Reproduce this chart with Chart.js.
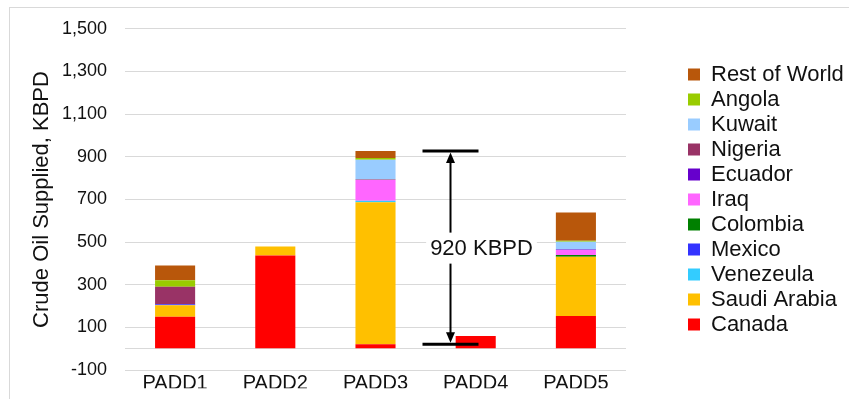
<!DOCTYPE html>
<html>
<head>
<meta charset="utf-8">
<script src="https://cdn.jsdelivr.net/npm/chart.js@4.4.1/dist/chart.umd.min.js"></script>
<style>
    body { margin: 0; background: #fff; }
    #wrap { width: 849px; height: 399px; }
</style>
</head>
<body>
<div id="wrap"><canvas id="supplyChart" width="849" height="399"></canvas></div>
<script>
// Categories and series (KBPD), bottom of stack first
const padds = ['PADD1', 'PADD2', 'PADD3', 'PADD4', 'PADD5'];
const canada    = [150, 438, 22, 60, 154];
const saudi     = [54, 42, 665, 0, 278];
const venezuela = [0, 0, 7, 0, 0];
const mexico    = [5, 0, 0, 0, 0];
const colombia  = [0, 0, 0, 0, 8];
const iraq      = [0, 0, 97, 0, 23];
const ecuador   = [0, 0, 0, 0, 3];
const nigeria   = [82, 0, 3, 0, 0];
const kuwait    = [0, 0, 92, 0, 36];
const angola    = [30, 0, 8, 0, 5];
const restWorld = [70, 0, 33, 0, 132];

const yTicks = [-100, 0, 100, 300, 500, 700, 900, 1100, 1300, 1500];
const noteText = '920 KBPD';
const noteIndex = 2; // PADD3

const textColor = '#111';
const gridColor = '#d9d9d9';
const fontFamily = '"Liberation Sans", Arial, sans-serif';

function series(label, values, color) {
    return {
        label: label,
        data: values,
        backgroundColor: color,
        borderWidth: 0,
        barPercentage: 0.4,
        categoryPercentage: 1.0
    };
}

// Outer frame line, top-left corner visible
const framePlugin = {
    id: 'frame',
    beforeDraw(chart) {
        const ctx = chart.ctx;
        ctx.save();
        ctx.fillStyle = '#fff';
        ctx.fillRect(0, 0, chart.width, chart.height);
        ctx.strokeStyle = gridColor;
        ctx.lineWidth = 1;
        ctx.strokeRect(9.5, 7.5, chart.width + 20, chart.height + 20);
        ctx.restore();
    }
};

// Dimension arrow next to PADD3
const notePlugin = {
    id: 'note',
    afterDatasetsDraw(chart) {
        const ctx = chart.ctx;
        const x = chart.scales.x;
        const y = chart.scales.y;
        let total = 0;
        chart.data.datasets.forEach(ds => { total += ds.data[noteIndex]; });
        const yTop = y.getPixelForValue(total);
        const yBot = y.getPixelForValue(canada[noteIndex]);
        const cx = x.getPixelForValue(noteIndex);
        const x0 = cx + 47, x1 = cx + 103, ax = cx + 75;

        ctx.save();
        ctx.strokeStyle = '#000';
        ctx.fillStyle = '#000';
        ctx.lineWidth = 3;
        ctx.beginPath();
        ctx.moveTo(x0, yTop); ctx.lineTo(x1, yTop);
        ctx.moveTo(x0, yBot); ctx.lineTo(x1, yBot);
        ctx.stroke();

        ctx.lineWidth = 2;
        ctx.beginPath();
        ctx.moveTo(ax, yTop + 10); ctx.lineTo(ax, yBot - 10);
        ctx.stroke();

        ctx.beginPath();
        ctx.moveTo(ax, yTop + 1.5); ctx.lineTo(ax - 4.5, yTop + 12); ctx.lineTo(ax + 4.5, yTop + 12);
        ctx.closePath();
        ctx.fill();
        ctx.beginPath();
        ctx.moveTo(ax, yBot - 1.5); ctx.lineTo(ax - 4.5, yBot - 12); ctx.lineTo(ax + 4.5, yBot - 12);
        ctx.closePath();
        ctx.fill();

        const midY = (yTop + yBot) / 2;
        ctx.font = '22px ' + fontFamily;
        const w = ctx.measureText(noteText).width;
        const tx = cx + 106;
        ctx.fillStyle = '#fff';
        ctx.fillRect(tx - w / 2 - 4, midY - 15, w + 8, 31);
        ctx.fillStyle = textColor;
        ctx.textAlign = 'center';
        ctx.textBaseline = 'middle';
        ctx.fillText(noteText, tx, midY + 1);
        ctx.restore();
    }
};

const ctx = document.getElementById('supplyChart').getContext('2d');
const chart = new Chart(ctx, {
    type: 'bar',
    data: {
        labels: padds,
        datasets: [
            series('Canada', canada, '#FF0000'),
            series('Saudi Arabia', saudi, '#FFC000'),
            series('Venezeula', venezuela, '#33CCFF'),
            series('Mexico', mexico, '#3333FF'),
            series('Colombia', colombia, '#008000'),
            series('Iraq', iraq, '#FF66FF'),
            series('Ecuador', ecuador, '#6600CC'),
            series('Nigeria', nigeria, '#993366'),
            series('Kuwait', kuwait, '#99CCFF'),
            series('Angola', angola, '#99CC00'),
            series('Rest of World', restWorld, '#B8570B')
        ]
    },
    options: {
        responsive: false,
        animation: false,
        layout: {
            padding: { top: 25, right: 5, bottom: 6, left: 0 }
        },
        plugins: {
            legend: {
                position: 'right',
                fullSize: false,
                reverse: true,
                maxWidth: 159,
                labels: {
                    color: textColor,
                    boxWidth: 12,
                    boxHeight: 12,
                    padding: 3,
                    font: { size: 22, family: fontFamily }
                }
            },
            tooltip: { enabled: false }
        },
        scales: {
            x: {
                stacked: true,
                grid: { display: false },
                border: { display: false },
                ticks: {
                    color: textColor,
                    padding: -7,
                    font: { size: 20, family: fontFamily }
                }
            },
            y: {
                stacked: true,
                min: -100,
                max: 1500,
                afterBuildTicks: function(scale) {
                    scale.ticks = yTicks.map(v => ({ value: v }));
                },
                afterFit: function(scale) {
                    scale.width = 125;
                },
                grid: { color: gridColor, drawTicks: false },
                border: { display: false },
                ticks: {
                    color: textColor,
                    padding: 18,
                    font: { size: 18, family: fontFamily },
                    callback: function(value) {
                        return value === 0 ? '' : value.toLocaleString('en-US');
                    }
                },
                title: {
                    display: true,
                    text: 'Crude Oil Supplied, KBPD',
                    color: textColor,
                    padding: { top: 29, bottom: 0 },
                    font: { size: 22, family: fontFamily }
                }
            },
            gap: {
                position: 'right',
                display: true,
                min: 0,
                max: 1,
                grid: { display: false },
                border: { display: false },
                ticks: { display: false },
                afterFit: function(scale) {
                    scale.width = 59;
                }
            }
        }
    },
    plugins: [framePlugin, notePlugin]
});
</script>
</body>
</html>
